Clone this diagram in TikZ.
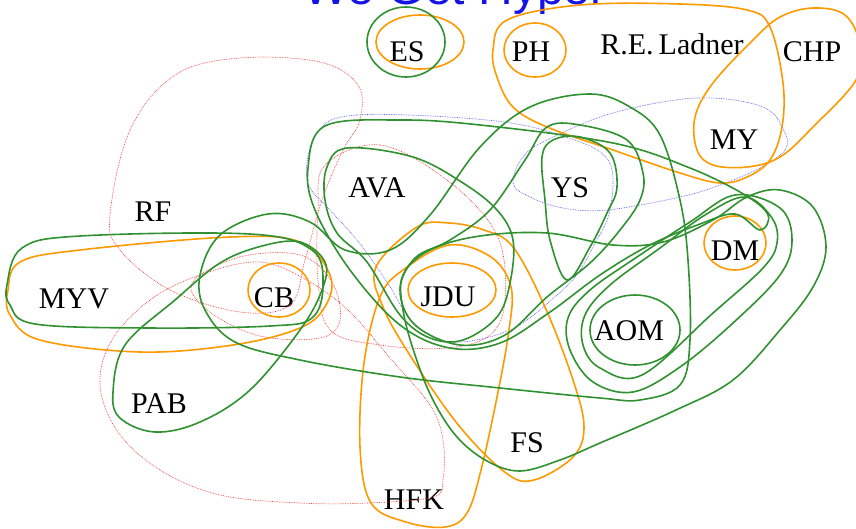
\documentclass[tikz,border=0pt]{standalone}
\usepackage{fontspec}
\setmainfont{Liberation Serif}
\newfontfamily\titlefont{Liberation Sans}
\usetikzlibrary{positioning}

\definecolor{hgreen}{RGB}{48,145,48}
\definecolor{horange}{RGB}{255,153,0}
\definecolor{hred}{RGB}{240,60,60}
\definecolor{hblue}{RGB}{90,90,240}
\definecolor{titleblue}{RGB}{20,20,230}

\begin{document}
\begin{tikzpicture}[x=1pt,y=-1pt]
      \tikzset{
        person/.style={font=\fontsize{30}{34}\selectfont, inner sep=0pt},
        grn/.style={draw=hgreen, line width=1.6pt},
        org/.style={draw=horange, line width=1.6pt},
        rdot/.style={draw=hred, line width=0.7pt, densely dotted},
        bdot/.style={draw=hblue, line width=0.7pt, densely dotted},
        hedge/.style={smooth cycle, tension=0.6},
      }
      \useasboundingbox (0,0) rectangle (856,528);

      \node[anchor=base, font=\titlefont\fontsize{48}{50}\selectfont, text=titleblue] (title) at (455,4) {We Get Hyper};

      % people
      \node[person] (ES)  at (407,52)  {ES};
      \node[person] (PH)  at (531,52)  {PH};
      \node[person] (REL) at (672,44)  {R.E.\,Ladner};
      \node[person] (CHP) at (812,52)  {CHP};
      \node[person] (MY)  at (734,140) {MY};
      \node[person] (AVA) at (377,188) {AVA};
      \node[person] (YS)  at (570,188) {YS};
      \node[person] (RF)  at (153,212) {RF};
      \node[person] (DM)  at (735,251) {DM};
      \node[person] (MYV) at (74,299)  {MYV};
      \node[person] (CB)  at (274,298) {CB};
      \node[person] (JDU) at (448,297) {JDU};
      \node[person] (AOM) at (629,331) {AOM};
      \node[person] (PAB) at (159,404) {PAB};
      \node[person] (FS)  at (527,443) {FS};
      \node[person] (HFK) at (414,500) {HFK};

      % dotted edges
      \draw[rdot] plot[hedge] coordinates {(110,215) (130,130) (175,75) (240,58) (320,62) (358,85) (360,120) (343,150) (322,200) (305,260) (290,305) (240,312) (170,290) (120,250)};
      \draw[rdot] plot[hedge] coordinates {(100,385) (112,340) (150,300) (200,275) (260,262) (310,282) (350,312) (390,358) (430,405) (443,440) (443,480) (433,497) (367,503) (300,503) (220,495) (160,470) (118,432)};
      \draw[rdot] plot[hedge] coordinates {(192,283) (240,257) (300,255) (332,282) (340,320) (320,338) (260,336) (210,312)};
      \draw[rdot] plot[hedge] coordinates {(325,165) (380,145) (447,180) (497,235) (505,300) (490,335) (447,348) (380,345) (330,330) (318,280) (318,210)};
      \draw[bdot] plot[hedge] coordinates {(513,183) (523,157) (547,140) (613,113) (697,98) (763,107) (785,133) (785,150) (760,168) (720,185) (680,197) (607,210) (563,208) (530,197)};
      \draw[bdot] plot[hedge] coordinates {(317,133) (357,115) (487,120) (560,135) (608,160) (610,210) (593,247) (578,273) (557,295) (510,330) (450,342) (413,322) (387,282) (357,240) (330,210) (307,180)};

      % orange edges
      \draw[org] (420,42) ellipse (44 and 27);
      \draw[org] (535,50) ellipse (31 and 27);
      \draw[org] (735,243) ellipse (31 and 27);
      \draw[org] (279,290) ellipse (31 and 27);
      \draw[org] (452,290) ellipse (44 and 27);
      \draw[org] plot[hedge] coordinates {(493,50) (507,20) (580,5) (680,4) (747,10) (770,27) (783,83) (782,127) (770,160) (747,177) (720,183) (680,173) (613,150) (547,127) (513,107) (497,77)};
      \draw[org] plot[hedge] coordinates {(695,117) (713,83) (753,40) (780,17) (813,8) (845,15) (860,45) (856,80) (813,127) (780,157) (747,167) (713,165) (697,150)};
      \draw[org] plot[hedge] coordinates {(8,290) (20,262) (80,250) (230,237) (300,242) (330,275) (326,305) (300,328) (233,345) (140,352) (40,340) (10,315)};
      \draw[org] plot[hedge] coordinates {(376,267) (417,227) (449,223) (484,230) (513,247) (545,307) (573,380) (584,427) (573,457) (534,480) (506,473) (460,427) (413,360) (383,307)};
      \draw[org] plot[hedge] coordinates {(403,270) (449,245) (491,257) (511,287) (509,330) (497,397) (481,470) (467,513) (445,527) (406,522) (371,503) (360,447) (364,363) (380,297)};

      % green edges
      \draw[grn] (406,42) ellipse (39 and 35);
      \draw[grn] (635,330) ellipse (45 and 35);
      \draw[grn] plot[hedge] coordinates {(7,285) (22,248) (80,236) (250,234) (312,250) (323,285) (312,318) (270,326) (150,328) (35,324) (10,305)};
      \draw[grn] plot[hedge] coordinates {(113,392) (125,345) (175,300) (220,263) (262,246) (300,242) (325,262) (322,290) (300,330) (250,390) (200,422) (155,432) (120,418)};
      \draw[grn] plot[hedge] coordinates {(590,94) (630,107) (660,135) (680,200) (688,260) (690,340) (680,385) (640,400) (600,398) (500,388) (400,377) (300,360) (235,342) (205,310) (200,275) (220,235) (268,214) (310,222) (345,250) (390,250) (430,215) (480,147) (530,107)};
      \draw[grn] plot[hedge] coordinates {(403,275) (430,250) (480,236) (547,233) (613,245) (663,242) (713,220) (747,197) (780,190) (813,207) (826,247) (813,287) (780,330) (733,380) (676,410) (600,443) (560,460) (520,471) (487,461) (457,437) (433,400) (415,355) (403,310)};
      \draw[grn] plot[hedge] coordinates {(308,168) (325,126) (400,120) (480,125) (613,143) (690,168) (745,195) (768,215) (760,230) (735,214) (700,224) (650,245) (600,275) (550,312) (500,343) (450,348) (400,325) (350,270) (315,210)};
      \draw[grn] plot[hedge] coordinates {(327,167) (347,148) (413,157) (463,183) (497,210) (513,240) (510,283) (497,317) (463,340) (430,338) (400,315) (367,262) (337,233) (325,200)};
      \draw[grn] plot[hedge] coordinates {(547,127) (580,125) (627,140) (643,173) (640,200) (620,230) (590,263) (547,297) (505,335) (460,345) (415,325) (400,290) (415,258) (450,240) (490,210) (525,160)};
      \draw[grn] plot[hedge] coordinates {(542,157) (553,140) (580,137) (610,153) (617,187) (607,213) (590,247) (567,280) (550,240) (545,200)};
      \draw[grn] plot[hedge] coordinates {(745,197) (772,218) (777,243) (763,268) (713,313) (642,375) (600,368) (583,345) (585,315) (610,285) (660,248) (705,215)};
      \draw[grn] plot[hedge] coordinates {(735,195) (780,208) (792,240) (780,275) (733,323) (680,367) (633,392) (593,382) (570,350) (568,318) (590,290) (640,255) (690,222)};
\end{tikzpicture}
\end{document}
